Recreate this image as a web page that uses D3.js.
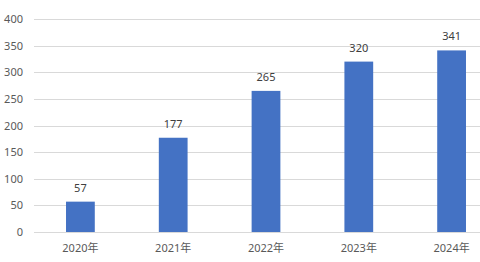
<!DOCTYPE html>
<html>
<head>
<meta charset="utf-8">
<script src="https://cdn.jsdelivr.net/npm/d3@7"></script>
<style>
  body { margin: 0; background: #fff; }
  svg { display: block; font-family: "Noto Sans", "Noto Sans CJK SC", sans-serif; }
</style>
</head>
<body>
<svg id="chart"></svg>
<script>
const years = ["2020年", "2021年", "2022年", "2023年", "2024年"];
const values = [57, 177, 265, 320, 341];
const yTicks = [0, 50, 100, 150, 200, 250, 300, 350, 400];

const width = 480;
const height = 262;
const marginTop = 19;
const marginBottom = 30;
const marginLeft = 34;
const plotRight = 498; // last band runs past the window edge

const svg = d3.select("#chart")
  .attr("width", width)
  .attr("height", height)
  .attr("viewBox", [0, 0, width, height]);

const x = d3.scaleBand()
  .domain(years)
  .range([marginLeft, plotRight])
  .paddingInner(0.69)
  .paddingOuter(0.345);

const y = d3.scaleLinear()
  .domain([0, 400])
  .range([height - marginBottom, marginTop]);

// gridlines
svg.append("g")
  .attr("stroke", "#d9d9d9")
  .attr("stroke-width", 1)
  .selectAll("line")
  .data(yTicks)
  .join("line")
  .attr("x1", marginLeft)
  .attr("x2", width)
  .attr("y1", d => Math.round(y(d)) + 0.5)
  .attr("y2", d => Math.round(y(d)) + 0.5);

// y axis labels
svg.append("g")
  .attr("transform", `translate(${marginLeft},0)`)
  .call(d3.axisLeft(y).tickValues(yTicks).tickSize(0).tickPadding(11))
  .call(g => g.select(".domain").remove())
  .call(g => g.selectAll(".tick text")
    .attr("fill", "#595959")
    .style("font-size", "11px")
    .style("font-family", "\"Noto Sans\", sans-serif"));

// x axis labels
svg.append("g")
  .attr("transform", `translate(0,${height - marginBottom})`)
  .call(d3.axisBottom(x).tickSize(0).tickPadding(12))
  .call(g => g.select(".domain").remove())
  .call(g => g.selectAll(".tick text")
    .attr("fill", "#595959")
    .style("font-size", "11px")
    .style("font-family", "\"Noto Sans\", \"Noto Sans CJK SC\", sans-serif"));

const data = years.map((d, i) => ({ year: d, value: values[i] }));

// bars
svg.append("g")
  .attr("fill", "#4472c4")
  .selectAll("rect")
  .data(data)
  .join("rect")
  .attr("x", d => x(d.year))
  .attr("y", d => y(d.value))
  .attr("width", x.bandwidth())
  .attr("height", d => y(0) - y(d.value));

// value labels
svg.append("g")
  .attr("fill", "#404040")
  .attr("text-anchor", "middle")
  .style("font-size", "11px")
  .selectAll("text")
  .data(data)
  .join("text")
  .attr("x", d => x(d.year) + x.bandwidth() / 2)
  .attr("y", d => y(d.value) - 10)
  .text(d => d.value);
</script>
</body>
</html>
